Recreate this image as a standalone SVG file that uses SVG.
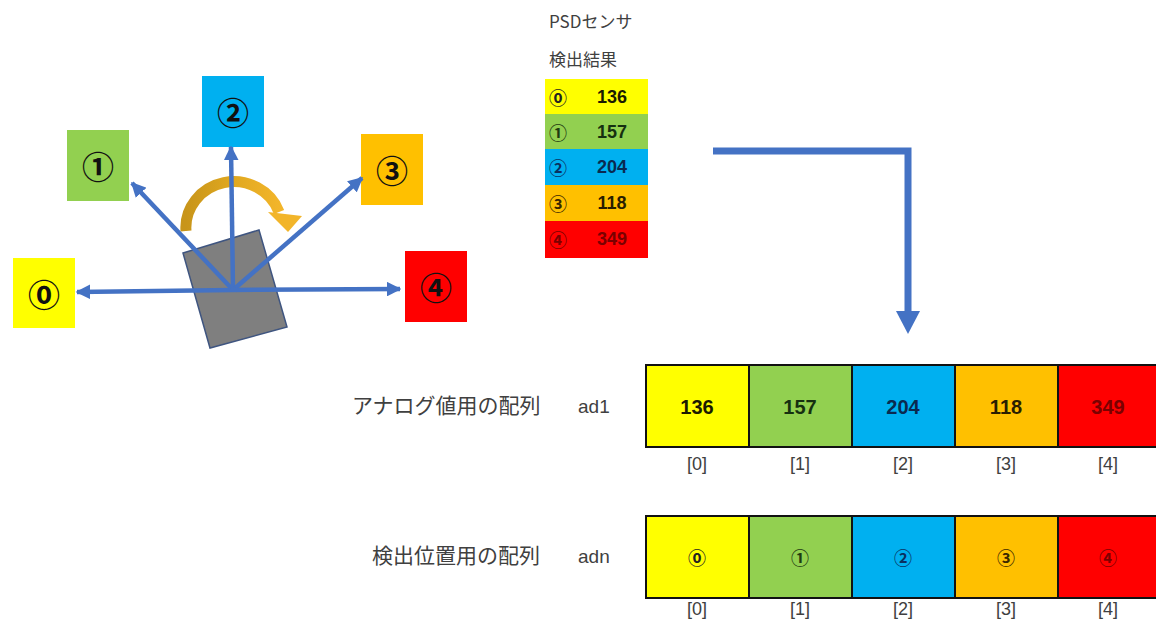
<svg xmlns="http://www.w3.org/2000/svg" width="1156" height="621" viewBox="0 0 1156 621">
<style>
.lbl{font-family:"Noto Sans CJK JP","Noto Sans",sans-serif;font-size:17px;fill:#404040}
.big{font-size:21px}
.lat{font-family:"Liberation Sans",Arial,sans-serif;font-size:19px;fill:#404040}
.circ{font-family:"Noto Sans CJK JP","DejaVu Sans",sans-serif;font-size:32px;font-weight:bold;fill:#111;text-anchor:middle;dominant-baseline:central}
.tc{font-family:"Noto Sans CJK JP","DejaVu Sans",sans-serif;font-size:18px;font-weight:bold;text-anchor:middle;dominant-baseline:central}
.tv{font-family:"Liberation Sans",Arial,sans-serif;font-size:18px;font-weight:bold;text-anchor:middle;dominant-baseline:central}
.av{font-family:"Liberation Sans",Arial,sans-serif;font-size:20px;font-weight:bold;text-anchor:middle;dominant-baseline:central}
.idx{font-family:"Liberation Sans",Arial,sans-serif;font-size:18px;fill:#404040;text-anchor:middle;dominant-baseline:central}
.cell{stroke:#111;stroke-width:2}
.ray{stroke:#4472c4;stroke-width:4.5;fill:none;marker-end:url(#ah)}
</style>
<defs>
<marker id="ah" viewBox="0 0 10 10" refX="9" refY="5" markerWidth="3.3" markerHeight="3.3" markerUnits="strokeWidth" orient="auto">
<path d="M0,0 L10,5 L0,10 z" fill="#4472c4"/>
</marker>
<linearGradient id="gold" x1="0" y1="0" x2="1" y2="0">
<stop offset="0" stop-color="#c8951a"/>
<stop offset="0.5" stop-color="#e0a820"/>
<stop offset="1" stop-color="#f2b52a"/>
</linearGradient>
</defs>

<g id="sensor-boxes">
<g id="box0"><rect x="13" y="258" width="62" height="70" fill="#ffff00"/><text class="circ" x="44" y="293">⓪</text></g>
<g id="box1"><rect x="67" y="130" width="62" height="71" fill="#92d050"/><text class="circ" x="98" y="165">①</text></g>
<g id="box2"><rect x="202" y="76" width="62" height="71" fill="#00b0f0"/><text class="circ" x="233" y="111">②</text></g>
<g id="box3"><rect x="361" y="134" width="62" height="71" fill="#ffc000"/><text class="circ" x="392" y="169">③</text></g>
<g id="box4"><rect x="405" y="251" width="62" height="71" fill="#ff0000"/><text class="circ" x="436" y="286">④</text></g>
</g>

<g id="rotation">
<path d="M186,231 A48,46 0 0 1 279,212" fill="none" stroke="url(#gold)" stroke-width="11"/>
<path d="M268,212 L302,216 L288,232 z" fill="#f2b52a"/>
</g>

<g id="robot">
<polygon points="183,253 259,230 287,327 210,348" fill="#7f7f7f" stroke="#3f5580" stroke-width="1.5"/>
</g>

<g id="connectors">
<line class="ray" x1="233" y1="290" x2="77" y2="292"/>
<line class="ray" x1="233" y1="290" x2="132" y2="183"/>
<line class="ray" x1="233" y1="290" x2="231" y2="147"/>
<line class="ray" x1="233" y1="290" x2="362" y2="178"/>
<line class="ray" x1="233" y1="290" x2="400" y2="289"/>
<path d="M713,151 L908,151 L908,312" fill="none" stroke="#4472c4" stroke-width="7"/>
<path d="M896,311 L920,311 L908,334 z" fill="#4472c4"/>
</g>

<g id="psd-table">
<text class="lbl" x="549" y="28">PSDセンサ</text>
<text class="lbl" x="549" y="66">検出結果</text>
<rect x="545" y="79" width="103" height="36" fill="#ffff00"/>
<rect x="545" y="114" width="103" height="36" fill="#92d050"/>
<rect x="545" y="149" width="103" height="37" fill="#00b0f0"/>
<rect x="545" y="185" width="103" height="37" fill="#ffc000"/>
<rect x="545" y="221" width="103" height="37" fill="#ff0000"/>
<text class="tc" x="558" y="97" fill="#222">⓪</text><text class="tv" x="612" y="97" fill="#1a1a00">136</text>
<text class="tc" x="558" y="132" fill="#1f3a10">①</text><text class="tv" x="612" y="132" fill="#163010">157</text>
<text class="tc" x="558" y="167" fill="#0a3060">②</text><text class="tv" x="612" y="167" fill="#0a2a50">204</text>
<text class="tc" x="558" y="203" fill="#3a2800">③</text><text class="tv" x="612" y="203" fill="#2a1e00">118</text>
<text class="tc" x="558" y="239" fill="#7a0000">④</text><text class="tv" x="612" y="239" fill="#7a0000">349</text>
</g>

<g id="array-ad1">
<text class="lbl big" x="352" y="413">アナログ値用の配列</text>
<text class="lat" x="578" y="413">ad1</text>
<rect class="cell" x="646" y="365" width="103" height="82" fill="#ffff00"/>
<rect class="cell" x="749" y="365" width="103" height="82" fill="#92d050"/>
<rect class="cell" x="852" y="365" width="103" height="82" fill="#00b0f0"/>
<rect class="cell" x="955" y="365" width="103" height="82" fill="#ffc000"/>
<rect class="cell" x="1058" y="365" width="103" height="82" fill="#ff0000"/>
<text class="av" x="697" y="407" fill="#1a1a00">136</text>
<text class="av" x="800" y="407" fill="#163010">157</text>
<text class="av" x="903" y="407" fill="#0a2a50">204</text>
<text class="av" x="1006" y="407" fill="#2a1e00">118</text>
<text class="av" x="1108" y="407" fill="#7a0000">349</text>
<text class="idx" x="697" y="464">[0]</text>
<text class="idx" x="800" y="464">[1]</text>
<text class="idx" x="903" y="464">[2]</text>
<text class="idx" x="1006" y="464">[3]</text>
<text class="idx" x="1108" y="464">[4]</text>
</g>

<g id="array-adn">
<text class="lbl big" x="372" y="563">検出位置用の配列</text>
<text class="lat" x="578" y="563">adn</text>
<rect class="cell" x="646" y="516" width="103" height="82" fill="#ffff00"/>
<rect class="cell" x="749" y="516" width="103" height="82" fill="#92d050"/>
<rect class="cell" x="852" y="516" width="103" height="82" fill="#00b0f0"/>
<rect class="cell" x="955" y="516" width="103" height="82" fill="#ffc000"/>
<rect class="cell" x="1058" y="516" width="103" height="82" fill="#ff0000"/>
<text class="tc" x="697" y="557" fill="#222">⓪</text>
<text class="tc" x="800" y="557" fill="#1f3a10">①</text>
<text class="tc" x="903" y="557" fill="#0a3060">②</text>
<text class="tc" x="1006" y="557" fill="#3a2800">③</text>
<text class="tc" x="1108" y="557" fill="#7a0000">④</text>
<text class="idx" x="697" y="609">[0]</text>
<text class="idx" x="800" y="609">[1]</text>
<text class="idx" x="903" y="609">[2]</text>
<text class="idx" x="1006" y="609">[3]</text>
<text class="idx" x="1108" y="609">[4]</text>
</g>
</svg>
